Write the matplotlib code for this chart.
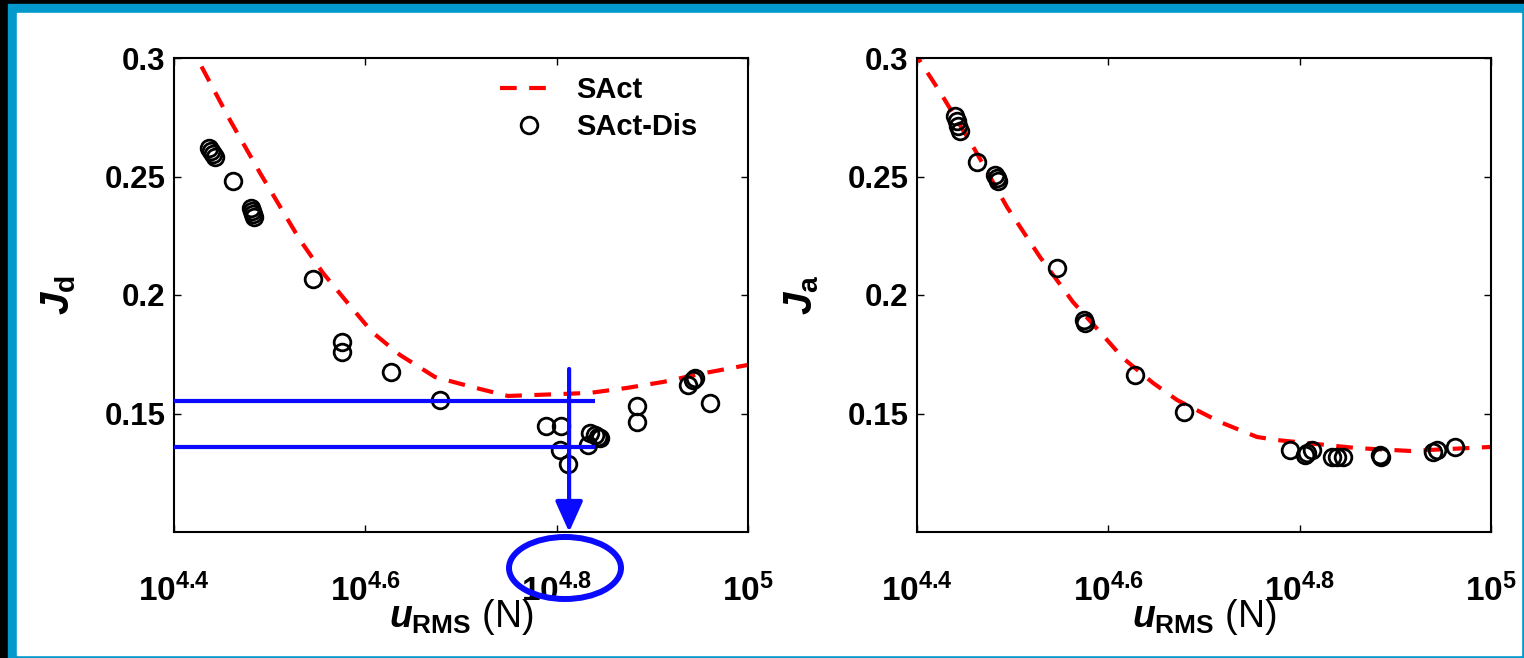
import numpy as np
import matplotlib
matplotlib.use("Agg")
import matplotlib.pyplot as plt
from matplotlib.patches import Rectangle, Ellipse

plt.rcParams['font.family'] = ['Liberation Sans', 'DejaVu Sans']
plt.rcParams['font.weight'] = 'bold'
plt.rcParams['mathtext.fontset'] = 'custom'
plt.rcParams['mathtext.rm'] = 'Liberation Sans:bold'
plt.rcParams['mathtext.it'] = 'Liberation Sans:italic:bold'
plt.rcParams['mathtext.bf'] = 'Liberation Sans:bold'

# --- data (x given as log10 of u_RMS) ---
# left panel: J_d
sact_d_logu = [4.4125, 4.424, 4.4585, 4.4899, 4.5317, 4.5557, 4.5808, 4.607,
               4.6362, 4.6728, 4.7115, 4.7491, 4.8035, 4.8348, 4.8735, 4.9111,
               4.9498, 5.0]
sact_d_J = [0.3068, 0.300, 0.2738, 0.2515, 0.2232, 0.2093, 0.197, 0.1844,
            0.1747, 0.1654, 0.1612, 0.1574, 0.1582, 0.1587, 0.1608, 0.1633,
            0.1667, 0.1705]

dis_d_logu = [4.4366, 4.4387, 4.4408, 4.4429, 4.4617, 4.4805, 4.4815, 4.4826,
              4.4836, 4.5453, 4.5756, 4.5756, 4.6268, 4.6781, 4.7889, 4.8045,
              4.8035, 4.8118, 4.8327, 4.8348, 4.8401, 4.8432, 4.8453, 4.884,
              4.884, 4.9373, 4.9425, 4.9446, 4.9603]
dis_d_J = [0.262, 0.2608, 0.2595, 0.2582, 0.2481, 0.2367, 0.2354, 0.2342,
           0.2329, 0.2067, 0.1802, 0.176, 0.1675, 0.1557, 0.1447, 0.1447,
           0.1346, 0.1287, 0.1367, 0.1418, 0.1409, 0.1401, 0.1397, 0.1532,
           0.1464, 0.162, 0.1641, 0.165, 0.1544]

# right panel: J_a
sact_a_logu = [4.3948, 4.401, 4.424, 4.4606, 4.4941, 4.5286, 4.5631, 4.5913,
               4.6153, 4.6467, 4.6718, 4.7167, 4.7554, 4.7763, 4.8599, 4.9153,
               5.0]
sact_a_J = [0.3042, 0.300, 0.2857, 0.2612, 0.2371, 0.216, 0.197, 0.1844,
            0.1734, 0.1629, 0.1557, 0.1464, 0.1401, 0.1388, 0.1354, 0.1342,
            0.1359]

dis_a_logu = [4.4397, 4.4418, 4.4429, 4.4449, 4.4627, 4.4815, 4.4836, 4.4847,
              4.5463, 4.5746, 4.5756, 4.6279, 4.6791, 4.7899, 4.8056, 4.8077,
              4.8129, 4.8338, 4.839, 4.8453, 4.884, 4.885, 4.9394, 4.9436,
              4.9624]
dis_a_J = [0.2755, 0.2734, 0.2713, 0.2692, 0.2561, 0.2506, 0.2494, 0.2481,
           0.2114, 0.1895, 0.1882, 0.1662, 0.1506, 0.1346, 0.1325, 0.1333,
           0.1346, 0.1316, 0.1316, 0.1316, 0.1325, 0.1316, 0.1338, 0.1346,
           0.1359]

# marked levels and chosen u on the left panel
mark_levels = [0.1553, 0.1359]
mark_end_logu = 4.84
arrow_logu = 4.813
arrow_top = 0.1688

xtick_exp = [4.4, 4.6, 4.8, 5]
xtick_labels = [r'$\mathrm{10^{4.4}}$', r'$\mathrm{10^{4.6}}$',
                r'$\mathrm{10^{4.8}}$', r'$\mathrm{10^{5}}$']
yticks = [0.15, 0.2, 0.25, 0.3]
ytick_labels = ['0.15', '0.2', '0.25', '0.3']

W, H = 1524, 658
fig = plt.figure(figsize=(W / 100, H / 100), dpi=100, facecolor='black')

# blue frame with white panel
fig.add_artist(Rectangle((8 / W, 0), (W - 8) / W, (H - 4) / H,
                         transform=fig.transFigure, color='#0399cc', zorder=-20))
fig.add_artist(Rectangle((17 / W, 3 / H), (1521 - 17) / W, (H - 13 - 3) / H,
                         transform=fig.transFigure, color='white', zorder=-19))

blue = '#0a0aff'
line_kw = dict(color='red', ls='--', lw=3, dashes=(4, 3))
mark_kw = dict(ls='none', marker='o', ms=12, mfc='none', mec='black', mew=2)


def style_axes(ax, ylab):
    ax.set_xscale('log')
    ax.set_xlim(10 ** 4.4, 10 ** 5)
    ax.set_ylim(0.1, 0.3)
    ax.set_xticks([10 ** e for e in xtick_exp])
    ax.set_xticklabels(xtick_labels)
    ax.xaxis.set_minor_locator(matplotlib.ticker.NullLocator())
    ax.set_yticks(yticks)
    ax.set_yticklabels(ytick_labels)
    ax.tick_params(direction='in', top=True, right=True, length=5, width=1)
    ax.tick_params(axis='x', pad=30, labelsize=24)
    ax.tick_params(axis='y', pad=6, labelsize=22.5)
    for s in ax.spines.values():
        s.set_linewidth(1.5)
    ax.set_xlabel(r'$u_{\mathrm{RMS}}$ (N)', fontsize=27, labelpad=-8)
    ax.set_ylabel(ylab, fontsize=29, labelpad=19)


ax1 = fig.add_axes([174 / W, 126 / H, 574 / W, 474 / H])
ax2 = fig.add_axes([917 / W, 126 / H, 574 / W, 474 / H])

ax1.plot(10 ** np.array(sact_d_logu), sact_d_J, label='SAct', **line_kw)
ax1.plot(10 ** np.array(dis_d_logu), dis_d_J, label='SAct-Dis', **mark_kw)
style_axes(ax1, r'$J_{\mathrm{d}}$')

for lev in mark_levels:
    ax1.plot([10 ** 4.4, 10 ** mark_end_logu], [lev, lev], color=blue, lw=3,
             solid_capstyle='butt', zorder=4)
ax1.annotate('', xy=(10 ** arrow_logu, 0.1), xytext=(10 ** arrow_logu, arrow_top),
             arrowprops=dict(arrowstyle='-|>,head_length=1.0,head_width=0.45',
                             mutation_scale=18.7, lw=3, color=blue,
                             shrinkA=0, shrinkB=0), zorder=4)

leg = ax1.legend(loc='upper left', bbox_to_anchor=(0.568, 0.962), frameon=False,
                 fontsize=21, borderpad=0, borderaxespad=0, handlelength=2.0,
                 handletextpad=0.6, labelspacing=0.3, numpoints=1)

fig.add_artist(Ellipse((565 / W, 1 - 568 / H), 112 / W, 62 / H,
                       transform=fig.transFigure, fill=False, ec=blue, lw=4.3))

ax2.plot(10 ** np.array(sact_a_logu), sact_a_J, **line_kw)
ax2.plot(10 ** np.array(dis_a_logu), dis_a_J, **mark_kw)
style_axes(ax2, r'$J_{\mathrm{a}}$')

fig.savefig('out.png', dpi=100)
